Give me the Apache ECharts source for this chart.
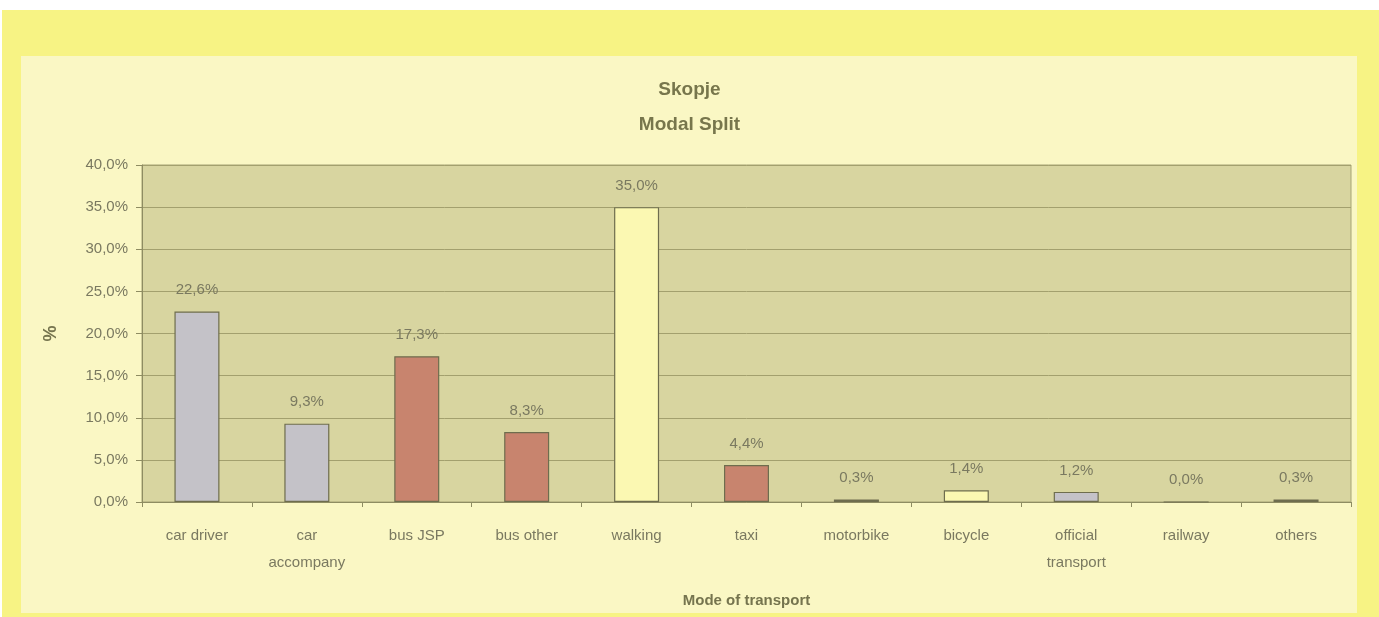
<!DOCTYPE html>
<html><head><meta charset="utf-8">
<script src="https://cdn.jsdelivr.net/npm/echarts@6/dist/echarts.min.js"></script>
<style>
html,body{margin:0;padding:0;background:#fff;width:1379px;height:617px;overflow:hidden}
#outer{position:absolute;left:2px;top:10px;width:1377px;height:607px;background:#F7F384}
#inner{position:absolute;left:21px;top:56px;width:1336px;height:557px;background:#FAF7C4}
#chart{position:absolute;left:0;top:0;width:1379px;height:617px}
</style></head>
<body>
<div id="outer"></div><div id="inner"></div>
<div id="chart"></div>
<script>
const categories = ['car driver','car\naccompany','bus JSP','bus other','walking','taxi','motorbike','bicycle','official\ntransport','railway','others'];
const values = [22.6, 9.3, 17.3, 8.3, 35.0, 4.4, 0.3, 1.4, 1.2, 0.0, 0.3];
const barColors = ['#C4C2C8','#C4C2C8','#C8846E','#C8846E','#FBF8B2','#C8846E','#8A8860','#FBF8B2','#C4C2C8','#C4C2C8','#8A8860'];
const yTicks = [0,5,10,15,20,25,30,35,40];

const fmt = v => v.toFixed(1).replace('.', ',') + '%';
const chart = echarts.init(document.getElementById('chart'), null, {renderer:'canvas'});
chart.setOption({
  backgroundColor: 'transparent',
  animation: false,
  title: {
    text: 'Skopje\nModal Split',
    left: 'center', top: 67,
    textStyle: {fontFamily:'Liberation Sans, Arial', fontSize:19, fontWeight:'bold', color:'#77764C', lineHeight:35}
  },
  grid: {left:142, right:28, top:165, bottom:115, show:true, backgroundColor:'#D8D5A0', borderColor:'#A6A374', borderWidth:1},
  xAxis: {
    type:'category', data: categories,
    name:'Mode of transport', nameLocation:'middle', nameGap:91,
    nameTextStyle:{fontFamily:'Liberation Sans, Arial', fontSize:15, fontWeight:'bold', color:'#75744E'},
    axisLine:{show:true, lineStyle:{color:'#8E8C62'}},
    axisTick:{show:true, length:5, lineStyle:{color:'#8E8C62'}},
    axisLabel:{fontFamily:'Liberation Sans, Arial', fontSize:15, color:'#7A7960', margin:20, lineHeight:27, interval:0}
  },
  yAxis: {
    type:'value', min:0, max:40, interval:5,
    name:'%', nameLocation:'middle', nameGap:82, nameRotate:90,
    nameTextStyle:{fontFamily:'Liberation Sans, Arial', fontSize:18, fontWeight:'bold', color:'#75744E'},
    axisLine:{show:true, lineStyle:{color:'#8E8C62'}},
    axisTick:{show:true, length:6, lineStyle:{color:'#8E8C62'}},
    splitLine:{show:true, lineStyle:{color:'#A3A06E', width:1}},
    axisLabel:{fontFamily:'Liberation Sans, Arial', fontSize:15, color:'#7A7960', margin:14,
      formatter: v => (yTicks.includes(v) ? v.toFixed(1).replace('.', ',') + '%' : '')}
  },
  series: [{
    type:'bar',
    data: values.map((v,i)=>({value:v, itemStyle:{color:barColors[i]}})),
    barWidth: 45,
    itemStyle:{borderColor:'#6E6D4E', borderWidth:1.2},
    label:{show:true, position:'top', distance:14, formatter: p => fmt(p.value),
      fontFamily:'Liberation Sans, Arial', fontSize:15, color:'#7A7960'}
  }]
});
</script>
</body></html>
